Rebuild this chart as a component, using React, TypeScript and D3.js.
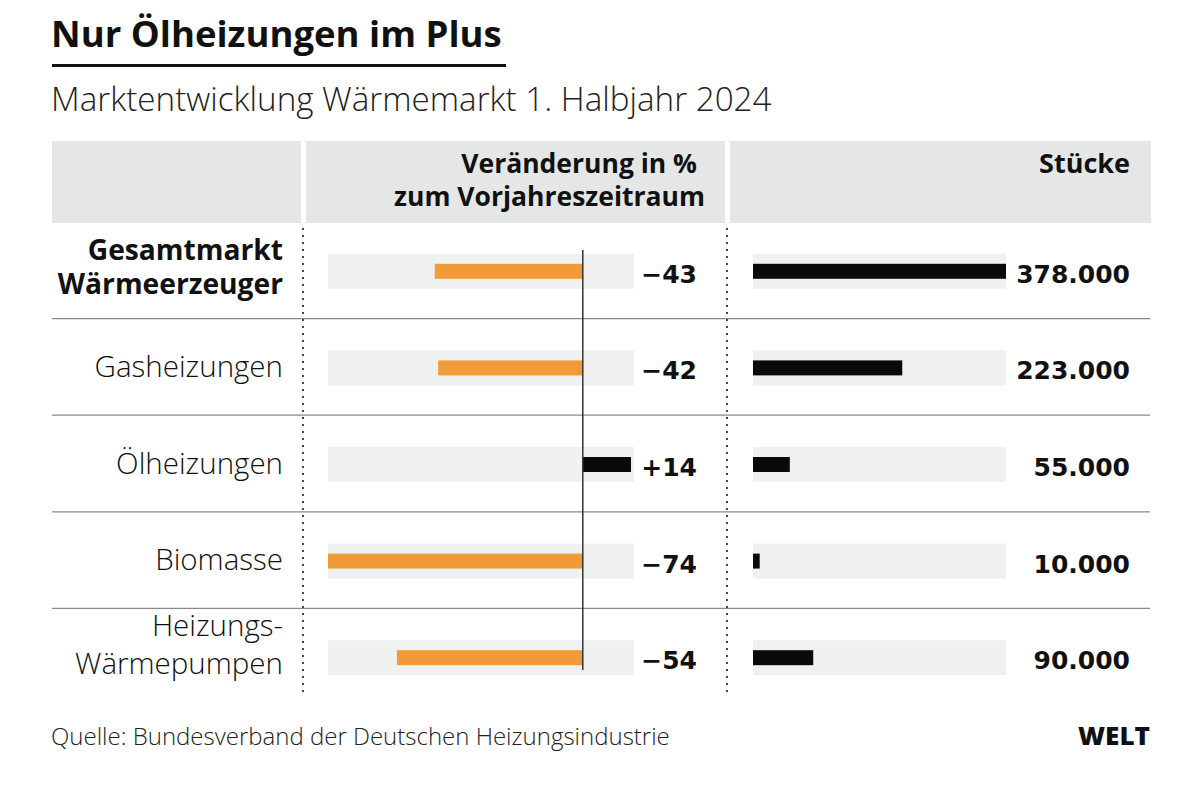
import React from "react";
import * as d3 from "d3";

const categories = ["Gesamtmarkt|Wärmeerzeuger", "Gasheizungen", "Ölheizungen", "Biomasse", "Heizungs-|Wärmepumpen"];
const changePct = [-43, -42, 14, -74, -54];
const units = [378000, 223000, 55000, 10000, 90000];
const boldRow = [true, false, false, false, false];

const W = 1200, H = 790;
const FONT = "'Open Sans', Lato, sans-serif";
const NUMFONT = "'DejaVu Sans', 'Open Sans', sans-serif";

export default function App() {
  const rowTop = 222, rowH = 96.6;
  const y = d3.scaleBand<number>().domain(d3.range(categories.length)).range([rowTop, rowTop + rowH * categories.length]);
  const xPct = d3.scaleLinear().domain([-74, 14]).range([328, 631]);
  const xUnits = d3.scaleLinear().domain([0, 378000]).range([753, 1006]);
  const fmtUnits = (v: number) => d3.format(",")(v).replace(/,/g, ".");
  const fmtPct = (v: number) => (v > 0 ? "+" + v : "\u2212" + Math.abs(v));
  const bandH = 35, barH = 15;

  return (
    <svg width={W} height={H} style={{ position: "absolute", left: 0, top: 0, background: "#fff" }} fontFamily={FONT}>
      <text x={51} y={47} fontSize={36.5} fontWeight={700} fill="#111">Nur Ölheizungen im Plus</text>
      <rect x={52} y={64} width={454} height={3} fill="#111" />
      <text x={51} y={111} fontSize={33.2} fontWeight={300} fill="#222">Marktentwicklung Wärmemarkt 1. Halbjahr 2024</text>

      <rect x={52} y={141} width={249} height={82} fill="#e4e7e5" />
      <rect x={306} y={141} width={419} height={82} fill="#e4e7e5" />
      <rect x={730} y={141} width={421} height={82} fill="#e4e7e5" />
      <text x={697} y={172.5} textAnchor="end" fontSize={26.5} fontWeight={700} fill="#111">Veränderung in %</text>
      <text x={705} y={205.5} textAnchor="end" fontSize={26.5} fontWeight={700} fill="#111">zum Vorjahreszeitraum</text>
      <text x={1130} y={172.5} textAnchor="end" fontSize={27} fontWeight={700} fill="#111">Stücke</text>

      {categories.map((c, i) => {
        const top = y(i)!;
        const cy = top + rowH / 2 + 1;
        const lines = c.split("|");
        const v = changePct[i];
        const single = lines.length === 1;
        const bold = boldRow[i];
        const lineGap = bold ? 34.5 : 38.5;
        const mid = bold ? cy + 5.5 : cy - 2.5;
        return (
          <g key={c}>
            {i > 0 && <line x1={52} x2={1150} y1={top} y2={top} stroke="#8a8a8a" strokeWidth={1.2} />}
            <text textAnchor="end" fontSize={bold ? 28.2 : 29.5} fontWeight={bold ? 700 : 300} fill="#111">
              {lines.map((l, j) => (
                <tspan key={l} x={283} y={single ? cy + 9 : mid + (j - 0.5) * lineGap}>{l}</tspan>
              ))}
            </text>
            <rect x={328} y={cy - bandH / 2} width={306} height={bandH} fill="#eff1f0" />
            <rect x={Math.min(xPct(v), xPct(0))} y={cy - barH / 2} width={Math.abs(xPct(v) - xPct(0))} height={barH}
              fill={v < 0 ? "#f09a3a" : "#0a0a0a"} />
            <text x={697} y={cy + 11.5} textAnchor="end" fontFamily={NUMFONT} fontSize={25} fontWeight={700} fill="#111">{fmtPct(v)}</text>
            <rect x={753} y={cy - bandH / 2} width={253} height={bandH} fill="#eff1f0" />
            <rect x={xUnits(0)} y={cy - barH / 2} width={Math.max(xUnits(units[i]) - xUnits(0), 0)} height={barH} fill="#0a0a0a" />
            <text x={1130} y={cy + 11.5} textAnchor="end" fontFamily={NUMFONT} fontSize={25} fontWeight={700} fill="#111">{fmtUnits(units[i])}</text>
          </g>
        );
      })}

      <line x1={xPct(0)} x2={xPct(0)} y1={250} y2={670} stroke="#333" strokeWidth={1.5} />
      <line x1={303} x2={303} y1={228} y2={697} stroke="#444" strokeWidth={2} strokeDasharray="2,5" />
      <line x1={727} x2={727} y1={228} y2={697} stroke="#444" strokeWidth={2} strokeDasharray="2,5" />

      <text x={51} y={745} fontSize={24} fontWeight={300} fill="#222">Quelle: Bundesverband der Deutschen Heizungsindustrie</text>
      <text x={1150} y={745} textAnchor="end" fontSize={24} fontWeight={800} fill="#111" textLength={72} lengthAdjust="spacingAndGlyphs">WELT</text>
    </svg>
  );
}
